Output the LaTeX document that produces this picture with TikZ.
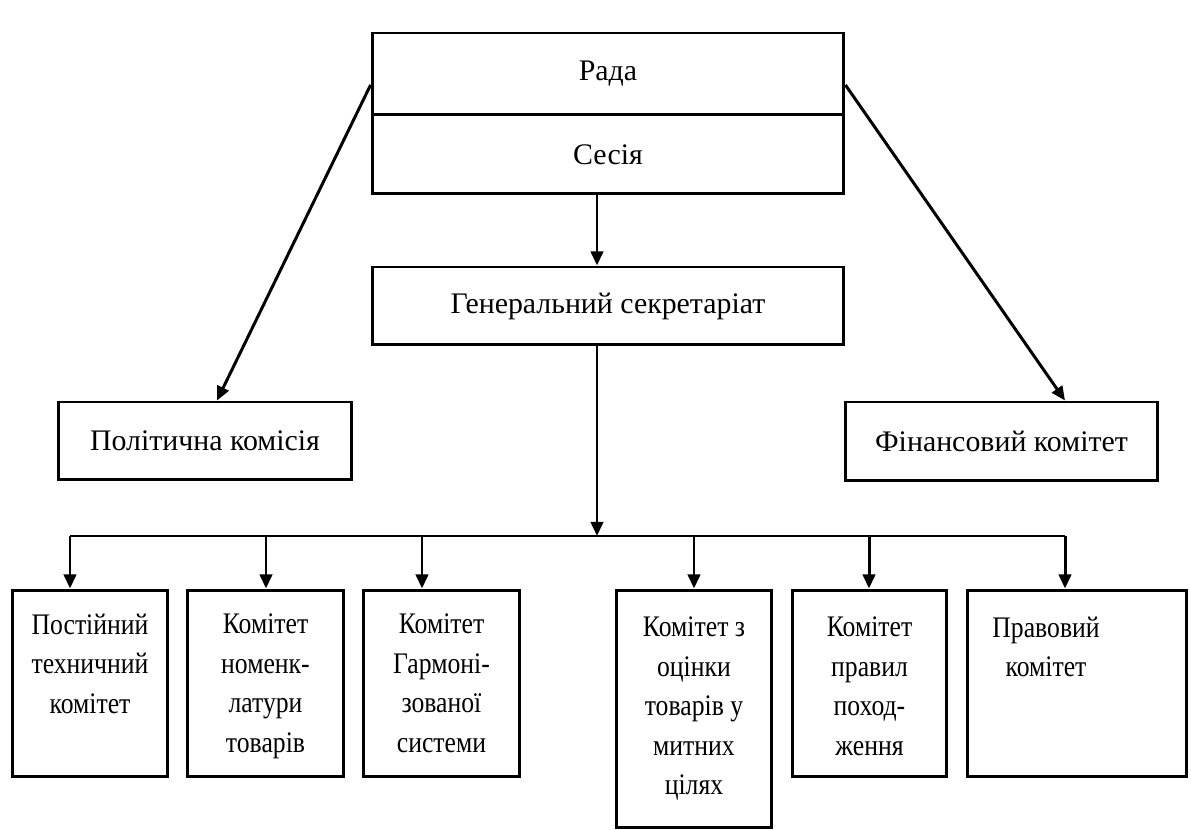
\documentclass[tikz,border=0pt]{standalone}
\usepackage{fontspec}
\setmainfont{Liberation Serif}
\usetikzlibrary{arrows.meta}

\tikzset{
  box/.style={draw, line width=1.7pt, inner sep=0pt},
  txt/.style={align=center, inner sep=0pt, font=\fontsize{17}{24}\selectfont},
  narrow/.style={txt, font=\fontsize{17}{22.5}\selectfont\addfontfeature{FakeStretch=0.86}},
  arr/.style={line width=1.7pt, -{Triangle[length=8pt,width=7pt]}},
  ln/.style={line width=1.7pt},
}

\begin{document}
\begin{tikzpicture}[x=0.02cm,y=-0.02cm]
\useasboundingbox (0,0) rectangle (1191,830);

% top boxes
\node[box, minimum width=9.44cm, minimum height=1.64cm] (rada) at (608,74) {};
\node[box, minimum width=9.44cm, minimum height=1.58cm] (sesiya) at (608,154.5) {};
\node[txt] (radat) at (rada) {Рада};
\node[txt] (sesiyat) at (sesiya) {Сесія};
\node[box, txt, minimum width=9.44cm, minimum height=1.56cm] (gensek) at (608,306) {Генеральний секретаріат};

% side boxes
\node[box, txt, minimum width=5.88cm, minimum height=1.56cm] (polit) at (205,441) {Політична комісія};
\node[box, txt, minimum width=6.26cm, minimum height=1.58cm] (fin) at (1001.5,441.5) {Фінансовий комітет};

% bottom boxes
\node[box, minimum width=3.12cm, minimum height=3.74cm] (k1) at (90,683.5) {};
\node[box, minimum width=3.14cm, minimum height=3.74cm] (k2) at (265.5,683.5) {};
\node[box, minimum width=3.14cm, minimum height=3.74cm] (k3) at (441.5,683.5) {};
\node[box, minimum width=3.12cm, minimum height=4.76cm] (k4) at (694,709) {};
\node[box, minimum width=3.10cm, minimum height=3.74cm] (k5) at (869.5,683.5) {};
\node[box, minimum width=4.40cm, minimum height=3.74cm] (k6) at (1077,683.5) {};

\node[narrow, anchor=north] (t1) at ([yshift=-0.5cm]k1.north) {Постійний\\техничний\\комітет};
\node[narrow, anchor=north] (t2) at ([yshift=-0.5cm]k2.north) {Комітет\\номенк-\\латури\\товарів};
\node[narrow, anchor=north] (t3) at ([yshift=-0.5cm]k3.north) {Комітет\\Гармоні-\\зованої\\системи};
\node[narrow, anchor=north] (t4) at ([yshift=-0.56cm]k4.north) {Комітет з\\оцінки\\товарів у\\митних\\цілях};
\node[narrow, anchor=north] (t5) at ([yshift=-0.56cm]k5.north) {Комітет\\правил\\поход-\\ження};
\node[narrow, anchor=north] (t6) at ([yshift=-0.56cm, xshift=-0.62cm]k6.north) {Правовий\\комітет};

% connectors
\coordinate (bar) at (597,536);
\draw[arr] (sesiya.south -| bar) -- (gensek.north -| bar);
\draw[arr] (gensek.south -| bar) -- (bar);
\draw[arr] ([yshift=-0.22cm]rada.west) -- ([xshift=0.24cm]polit.north);
\draw[arr] ([yshift=-0.22cm]rada.east) -- ([xshift=1.27cm]fin.north);

\coordinate (barL) at (70,536);
\coordinate (barR) at (1065,536);
\draw[ln] (barL) -- (barR);
\foreach \i/\x in {1/70,2/266,3/422,4/694,5/869,6/1065} {
  \coordinate (b\i) at (\x,536);
  \draw[arr] (b\i) -- (k\i.north -| b\i);
}
\end{tikzpicture}
\end{document}
